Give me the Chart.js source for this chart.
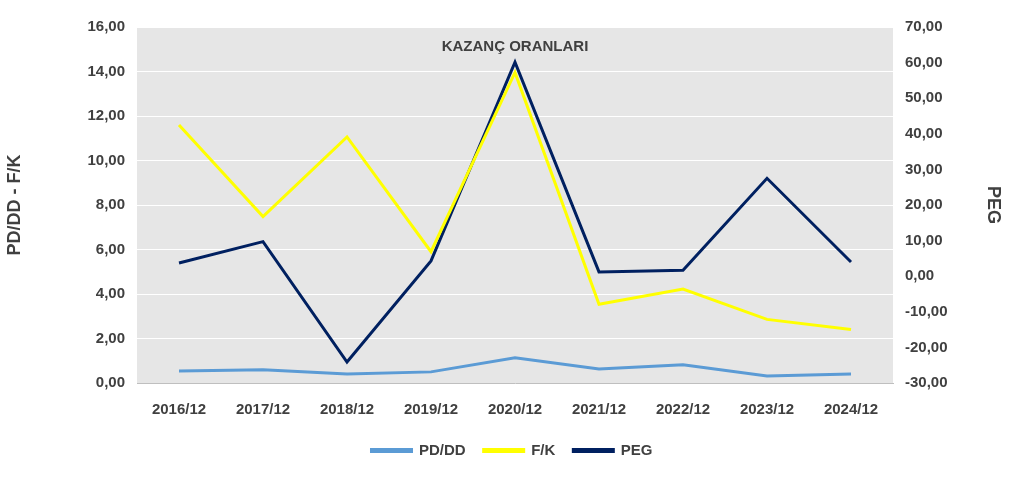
<!DOCTYPE html>
<html><head><meta charset="utf-8">
<script src="https://cdn.jsdelivr.net/npm/chart.js@4/dist/chart.umd.min.js"></script>
<style>html,body{margin:0;background:#fff}#w{width:1024px;height:480px}</style>
</head><body><div id="w"><canvas id="c"></canvas></div>
<script>
const categories=["2016/12","2017/12","2018/12","2019/12","2020/12","2021/12","2022/12","2023/12","2024/12"];
const pdDD=[0.54,0.59,0.41,0.50,1.13,0.63,0.82,0.32,0.41];
const fK=[11.6,7.48,11.06,5.9,13.96,3.54,4.22,2.86,2.4];
const peg=[3.7,9.7,-24.1,4.3,60.1,1.2,1.7,27.5,4.0];
const chartTitle="KAZANÇ ORANLARI";
const fmt=v=>v.toFixed(2).replace('.',',');
const font={family:"'Liberation Sans', Arial, sans-serif",size:15,weight:'bold'};
const bg={id:'bg',beforeDraw(ch){const a=ch.chartArea,x=ch.ctx;x.save();x.fillStyle='#e6e6e6';x.fillRect(a.left,a.top,a.right-a.left,a.bottom-a.top);x.restore();},
afterDraw(ch){const a=ch.chartArea,x=ch.ctx;x.save();x.fillStyle='#404040';x.font="bold 15px 'Liberation Sans', Arial, sans-serif";x.textAlign='center';x.textBaseline='middle';x.fillText(chartTitle,(a.left+a.right)/2,47);x.restore();}};
new Chart(document.getElementById('c'),{type:'line',
data:{labels:categories,datasets:[
{label:'PD/DD',data:pdDD,borderColor:'#5b9bd5',backgroundColor:'#5b9bd5',yAxisID:'y',borderWidth:3,pointRadius:0,tension:0},
{label:'F/K',data:fK,borderColor:'#ffff00',backgroundColor:'#ffff00',yAxisID:'y',borderWidth:3,pointRadius:0,tension:0},
{label:'PEG',data:peg,borderColor:'#002060',backgroundColor:'#002060',yAxisID:'y1',borderWidth:3,pointRadius:0,tension:0}]},
options:{responsive:true,maintainAspectRatio:false,animation:false,
layout:{padding:{left:0,right:0,top:27,bottom:12}},
plugins:{legend:{position:'bottom',labels:{boxWidth:40,boxHeight:2,color:'#404040',font:font,padding:18}},tooltip:{enabled:false}},
scales:{
x:{offset:true,grid:{display:false},border:{color:'#bfbfbf'},ticks:{color:'#404040',font:font,maxRotation:0,padding:10},afterFit(s){s.height=42;}},
y:{min:0,max:16,ticks:{stepSize:2,color:'#404040',font:font,callback:fmt,padding:12},grid:{color:'#ffffff',lineWidth:1,drawTicks:false},border:{display:false},
 title:{display:true,text:'PD/DD - F/K',color:'#404040',font:{...font,size:18}},afterFit(s){s.width=137;}},
y1:{position:'right',min:-30,max:70,ticks:{stepSize:10,color:'#404040',font:font,callback:fmt,padding:12},grid:{display:false,drawTicks:false},border:{display:false},
 title:{display:true,text:'PEG',color:'#404040',font:{...font,size:18},padding:{top:20}},afterFit(s){s.width=131;}}}},
plugins:[bg]});
</script></body></html>
